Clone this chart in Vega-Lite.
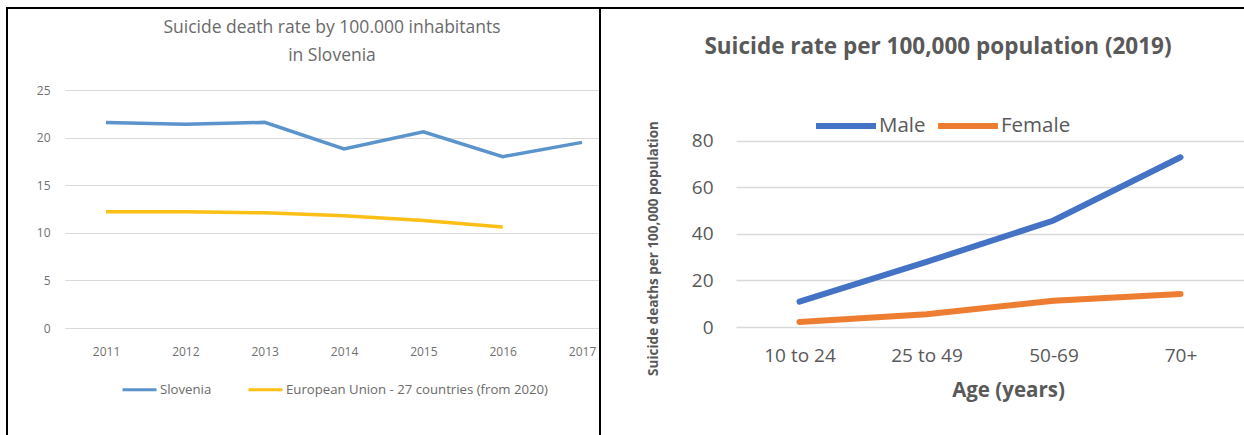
{
  "$schema": "https://vega.github.io/schema/vega-lite/v6.json",
  "padding": {"left": 6, "top": 7, "right": 0, "bottom": 0},
  "background": "white",
  "spacing": 0,
  "config": {
    "font": "Open Sans",
    "view": {"stroke": null},
    "concat": {"spacing": 0}
  },
  "datasets": {
    "slovenia": [
      {"year": 2011, "series": "Slovenia", "rate": 21.6},
      {"year": 2012, "series": "Slovenia", "rate": 21.4},
      {"year": 2013, "series": "Slovenia", "rate": 21.6},
      {"year": 2014, "series": "Slovenia", "rate": 18.8},
      {"year": 2015, "series": "Slovenia", "rate": 20.6},
      {"year": 2016, "series": "Slovenia", "rate": 18.0},
      {"year": 2017, "series": "Slovenia", "rate": 19.5},
      {"year": 2011, "series": "European Union - 27 countries (from 2020)", "rate": 12.2},
      {"year": 2012, "series": "European Union - 27 countries (from 2020)", "rate": 12.2},
      {"year": 2013, "series": "European Union - 27 countries (from 2020)", "rate": 12.1},
      {"year": 2014, "series": "European Union - 27 countries (from 2020)", "rate": 11.8},
      {"year": 2015, "series": "European Union - 27 countries (from 2020)", "rate": 11.3},
      {"year": 2016, "series": "European Union - 27 countries (from 2020)", "rate": 10.6}
    ],
    "byAge": [
      {"age": "10 to 24", "sex": "Male", "rate": 10.9},
      {"age": "25 to 49", "sex": "Male", "rate": 28.0},
      {"age": "50-69", "sex": "Male", "rate": 45.8},
      {"age": "70+", "sex": "Male", "rate": 73.0},
      {"age": "10 to 24", "sex": "Female", "rate": 2.2},
      {"age": "25 to 49", "sex": "Female", "rate": 5.5},
      {"age": "50-69", "sex": "Female", "rate": 11.3},
      {"age": "70+", "sex": "Female", "rate": 14.2}
    ]
  },
  "vconcat": [
    {
      "width": 1238,
      "height": 2,
      "data": {"values": []},
      "mark": "rect",
      "view": {"fill": "black", "stroke": null}
    },
    {
      "resolve": {
        "scale": {"color": "independent", "y": "independent", "x": "independent"},
        "legend": {"color": "independent"}
      },
      "hconcat": [
        {
          "width": 2,
          "height": 430,
          "data": {"values": []},
          "mark": "rect",
          "view": {"fill": "black", "stroke": null}
        },
        {
          "width": 534,
          "height": 319,
          "data": {"name": "slovenia"},
          "title": {
            "text": "Suicide death rate by 100.000 inhabitants",
            "subtitle": "in Slovenia",
            "fontSize": 17.5,
            "fontWeight": "normal",
            "color": "#6a6a6a",
            "subtitleFontSize": 17.5,
            "subtitleColor": "#6a6a6a",
            "subtitlePadding": 10,
            "anchor": "middle",
            "frame": "group",
            "offset": -55
          },
          "mark": {"type": "line", "strokeWidth": 3.5},
          "encoding": {
            "x": {
              "field": "year",
              "type": "quantitative",
              "scale": {"domain": [2010.483, 2017.214], "nice": false, "zero": false},
              "axis": {
                "values": [2011, 2012, 2013, 2014, 2015, 2016, 2017],
                "format": "d",
                "title": null,
                "grid": false,
                "domain": false,
                "ticks": false,
                "labelFlush": false,
                "labelOverlap": false,
                "labelPadding": 18,
                "labelFontSize": 12,
                "labelColor": "#707070"
              }
            },
            "y": {
              "field": "rate",
              "type": "quantitative",
              "scale": {"domain": [0, 33.51], "nice": false},
              "axis": {
                "values": [0, 5, 10, 15, 20, 25],
                "title": null,
                "domain": false,
                "ticks": false,
                "gridColor": "#d9d9d9",
                "labelPadding": 15,
                "labelFontSize": 12,
                "labelColor": "#707070",
                "minExtent": 57,
                "maxExtent": 57
              }
            },
            "color": {
              "field": "series",
              "type": "nominal",
              "sort": null,
              "scale": {
                "domain": ["Slovenia", "European Union - 27 countries (from 2020)"],
                "range": ["#5b93cc", "#fcbf16"]
              },
              "legend": {
                "orient": "none",
                "legendX": 56,
                "legendY": 362,
                "direction": "horizontal",
                "title": null,
                "padding": 0,
                "symbolType": "stroke",
                "symbolSize": 1156,
                "symbolStrokeWidth": 3,
                "labelFontSize": 13.2,
                "labelLimit": 400,
                "labelColor": "#6a6a6a",
                "labelOffset": 2,
                "columnPadding": 30
              }
            }
          }
        },
        {
          "width": 2,
          "height": 430,
          "data": {"values": []},
          "mark": "rect",
          "view": {"fill": "black", "stroke": null}
        },
        {
          "width": 508,
          "height": 318,
          "data": {"name": "byAge"},
          "title": {
            "text": "Suicide rate per 100,000 population (2019)",
            "fontSize": 22.5,
            "fontWeight": "bold",
            "color": "#595959",
            "anchor": "middle",
            "frame": "group",
            "dx": -52,
            "offset": -49
          },
          "mark": {"type": "line", "strokeWidth": 6, "strokeCap": "round"},
          "encoding": {
            "x": {
              "field": "age",
              "type": "ordinal",
              "sort": ["10 to 24", "25 to 49", "50-69", "70+"],
              "scale": {"type": "point", "padding": 0.5},
              "axis": {
                "title": "Age (years)",
                "titleFontSize": 20.5,
                "titleFontWeight": "bold",
                "titleColor": "#595959",
                "titleX": 272,
                "titlePadding": 15,
                "labelAngle": 0,
                "labelFontSize": 19,
                "labelColor": "#595959",
                "labelPadding": 19,
                "domain": false,
                "ticks": false,
                "grid": false
              }
            },
            "y": {
              "field": "rate",
              "type": "quantitative",
              "scale": {"domain": [0, 136.77], "nice": false},
              "axis": {
                "values": [0, 20, 40, 60, 80],
                "title": "Suicide deaths per 100,000 population",
                "titleFontSize": 13.5,
                "titleFontWeight": "bold",
                "titleColor": "#595959",
                "titleX": -83,
                "titleY": 239,
                "titleAngle": -90,
                "titleAlign": "center",
                "titleBaseline": "middle",
                "domain": false,
                "ticks": false,
                "gridColor": "#d9d9d9",
                "gridWidth": 1.5,
                "labelFontSize": 19,
                "labelColor": "#595959",
                "labelPadding": 23,
                "minExtent": 135,
                "maxExtent": 135
              }
            },
            "color": {
              "field": "sex",
              "type": "nominal",
              "sort": null,
              "scale": {"domain": ["Male", "Female"], "range": ["#4472c4", "#ed7d31"]},
              "legend": {
                "orient": "none",
                "legendX": 77,
                "legendY": 84,
                "direction": "horizontal",
                "title": null,
                "padding": 0,
                "symbolType": "stroke",
                "symbolSize": 3600,
                "symbolStrokeWidth": 6,
                "labelFontSize": 20.5,
                "labelColor": "#595959",
                "labelOffset": 0,
                "columnPadding": 0
              }
            }
          }
        }
      ]
    }
  ]
}
